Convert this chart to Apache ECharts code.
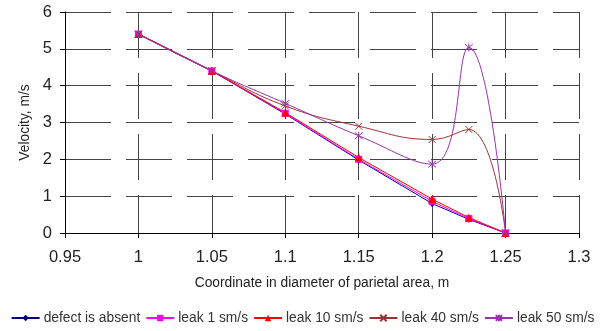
<!DOCTYPE html>
<html>
<head>
<meta charset="utf-8">
<script src="https://cdn.jsdelivr.net/npm/echarts@6/dist/echarts.min.js"></script>
<style>html,body{margin:0;padding:0;background:#fff}#c{width:605px;height:331px}</style>
</head>
<body>
<div id="c"></div>
<script>
var xs = [1, 1.05, 1.1, 1.15, 1.2, 1.225, 1.25];
var defectAbsent = [5.4, 4.4, 3.23, 1.98, 0.8, 0.37, 0];
var leak1 = [5.4, 4.4, 3.25, 2.0, 0.86, 0.39, 0];
var leak10 = [5.4, 4.4, 3.27, 2.05, 0.92, 0.42, 0];
var leak40 = [5.4, 4.4, 3.45, 2.9, 2.54, 2.81, 0];
var leak50 = [5.4, 4.4, 3.52, 2.64, 1.87, 5.04, 0];
var seriesNames = ['defect is absent', 'leak 1 sm/s', 'leak 10 sm/s', 'leak 40 sm/s', 'leak 50 sm/s'];
var xTicks = [0.95, 1.3, 0.05];
var yTicks = [0, 6, 1];

function pairs(ys) { return xs.map(function (x, i) { return [x, ys[i]]; }); }
var xPath = 'path://M0,0L10,10M10,0L0,10';
var starPath = 'path://M0,0L10,10M10,0L0,10M5,-1L5,11';

var chart = echarts.init(document.getElementById('c'), null, {renderer: 'canvas'});
var font = 'Liberation Sans, Arial, sans-serif';
function mk(name, data, color, symbol, size, smooth, hollow) {
  return {
    name: name, type: 'line', data: pairs(data), smooth: smooth ? 0.45 : false,
    symbol: symbol, symbolSize: size, showSymbol: true,
    lineStyle: {color: color, width: 1},
    itemStyle: hollow ? {color: 'rgba(0,0,0,0)', borderColor: color, borderWidth: 1} : {color: color, borderWidth: 0},
    emphasis: {disabled: true}, animation: false
  };
}
chart.setOption({
  animation: false,
  grid: {left: 65, right: 26, top: 12, bottom: 98},
  xAxis: {
    type: 'value', min: xTicks[0], max: xTicks[1], interval: xTicks[2],
    name: 'Coordinate in diameter of parietal area, m', nameLocation: 'middle', nameGap: 43,
    nameTextStyle: {fontFamily: font, fontSize: 13.8, color: '#222'},
    axisLine: {onZero: false, lineStyle: {color: '#000', width: 1}},
    axisTick: {show: true, length: 5, lineStyle: {color: '#000'}},
    axisLabel: {fontFamily: font, fontSize: 16.5, color: '#222', margin: 16,
      formatter: function (v) { return String(Math.round(v * 100) / 100); }},
    splitLine: {show: true, lineStyle: {color: '#444', width: 1, type: [46, 15]}}
  },
  yAxis: {
    type: 'value', min: yTicks[0], max: yTicks[1], interval: yTicks[2],
    name: 'Velocity, m/s', nameLocation: 'middle', nameGap: 33,
    nameTextStyle: {fontFamily: font, fontSize: 13.8, color: '#222'},
    axisLine: {show: true, lineStyle: {color: '#000', width: 1}},
    axisTick: {show: true, length: 5, lineStyle: {color: '#000'}},
    axisLabel: {fontFamily: font, fontSize: 16.5, color: '#222', margin: 13},
    splitLine: {show: true, lineStyle: {color: '#444', width: 1, type: [46, 15]}}
  },
  legend: {
    bottom: 1, left: 'center', itemWidth: 28, itemHeight: 8, itemGap: 5,
    textStyle: {fontFamily: font, fontSize: 13.8, color: '#333', padding: [0, 0, 0, -1]},
    data: seriesNames
  },
  series: [
    mk(seriesNames[0], defectAbsent, '#000080', 'diamond', 7, false),
    mk(seriesNames[1], leak1, '#ff00ff', 'rect', 7, false),
    mk(seriesNames[2], leak10, '#ff0000', 'triangle', 8, false),
    mk(seriesNames[3], leak40, '#993333', xPath, 7, true, true),
    mk(seriesNames[4], leak50, '#9933aa', starPath, 8, true, true)
  ]
});
</script>
</body>
</html>
